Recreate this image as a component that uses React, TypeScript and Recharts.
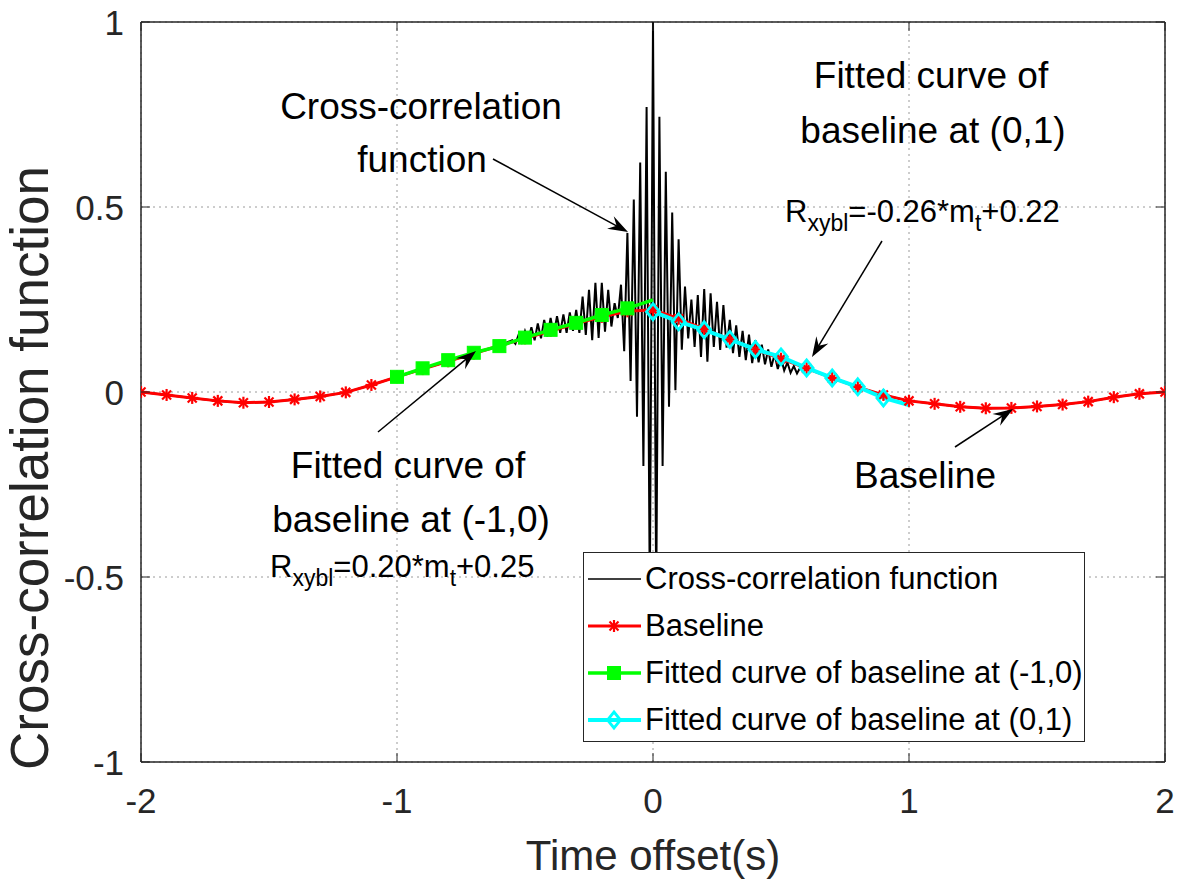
import { LineChart, Line, XAxis, YAxis, CartesianGrid, ReferenceLine, Legend } from 'recharts';

const W = 1182;
const H = 879;
const PLOT = { left: 141, top: 22, right: 1165, bottom: 762 };
const FONT = '"Liberation Sans", Arial, Helvetica, sans-serif';
const INK = '#262626';

const xTicks = [-2, -1, 0, 1, 2];
const yTicks = [-1, -0.5, 0, 0.5, 1];

// baseline, one marker every 0.1 s
const baselineT = [
  -2, -1.9, -1.8, -1.7, -1.6, -1.5, -1.4, -1.3, -1.2, -1.1, -1, -0.9, -0.8, -0.7, -0.6, -0.5, -0.4, -0.3, -0.2, -0.1,
  0, 0.1, 0.2, 0.3, 0.4, 0.5, 0.6, 0.7, 0.8, 0.9, 1, 1.1, 1.2, 1.3, 1.4, 1.5, 1.6, 1.7, 1.8, 1.9, 2,
];
const baselineV = [
  0, -0.008, -0.016, -0.024, -0.029, -0.027, -0.02, -0.012, -0.001, 0.019, 0.041, 0.062, 0.083, 0.104, 0.125, 0.145,
  0.165, 0.185, 0.203, 0.218, 0.222, 0.198, 0.17, 0.142, 0.115, 0.09, 0.064, 0.038, 0.013, -0.008, -0.024, -0.032,
  -0.04, -0.044, -0.043, -0.039, -0.034, -0.026, -0.014, -0.005, 0,
];

// fitted curve on (-1,0)
const fitLeftT = [-1, -0.9, -0.8, -0.7, -0.6, -0.5, -0.4, -0.3, -0.2, -0.1, 0];
const fitLeftV = [0.041, 0.064, 0.086, 0.106, 0.124, 0.147, 0.168, 0.187, 0.208, 0.226, 0.249];

// fitted curve on (0,1)
const fitRightT = [0, 0.1, 0.2, 0.3, 0.4, 0.5, 0.6, 0.7, 0.8, 0.9, 1];
const fitRightV = [0.217, 0.19, 0.168, 0.142, 0.115, 0.095, 0.065, 0.038, 0.014, -0.016, -0.035];

// cross-correlation burst, peaks and troughs every half period (0.0125 s) from -0.55 s
const ccfStart = -0.55;
const ccfStep = 0.0125;
const ccfBurstV = [
  0.14, 0.13, 0.155, 0.135, 0.165, 0.14, 0.175, 0.14, 0.185, 0.145,
  0.195, 0.15, 0.2, 0.155, 0.205, 0.16, 0.21, 0.16, 0.215, 0.165,
  0.222, 0.16, 0.258, 0.154, 0.276, 0.14, 0.295, 0.146, 0.295, 0.163,
  0.276, 0.177, 0.24, 0.2, 0.29, 0.11, 0.43, 0.03, 0.52, -0.067,
  0.62, -0.2, 0.77, -0.56,
  1.0,
  -0.56, 0.744, -0.2, 0.595, -0.04, 0.485, 0.005, 0.413, 0.114, 0.285,
  0.145, 0.25, 0.122, 0.262, 0.095, 0.278, 0.082, 0.267, 0.122, 0.244,
  0.114, 0.235, 0.12, 0.195, 0.105, 0.18, 0.095, 0.165, 0.086, 0.155,
  0.078, 0.14, 0.08, 0.128, 0.075, 0.115, 0.068, 0.102, 0.062, 0.092,
  0.058, 0.08, 0.052, 0.07, 0.05, 0.066, 0.055, 0.064,
];

const seriesNames = [
  'Cross-correlation function',
  'Baseline',
  'Fitted curve of baseline at (-1,0)',
  'Fitted curve of baseline at (0,1)',
];
const RED = '#ff0000';
const GREEN = '#00ff00';
const CYAN = '#00ffff';

const toRows = (ts: number[], vs: number[]) => ts.map((t, i) => ({ t, v: vs[i] }));

const baselineData = toRows(baselineT, baselineV);
const fitLeftData = toRows(fitLeftT, fitLeftV);
const fitRightData = toRows(fitRightT, fitRightV);
const burstData = ccfBurstV.map((v, i) => ({ t: +(ccfStart + i * ccfStep).toFixed(4), v }));
const burstEnd = burstData[burstData.length - 1].t;
// outside the burst the function lies on the baseline
const ccfData = [
  ...baselineData.filter((d) => d.t < ccfStart - 1e-6),
  ...burstData,
  ...baselineData.filter((d) => d.t > burstEnd + 1e-6),
];

const Star = ({ cx, cy }: { cx: number; cy: number }) => (
  <g stroke={RED} strokeWidth={2.2}>
    <line x1={cx - 6} y1={cy} x2={cx + 6} y2={cy} />
    <line x1={cx} y1={cy - 6} x2={cx} y2={cy + 6} />
    <line x1={cx - 4.5} y1={cy - 4.5} x2={cx + 4.5} y2={cy + 4.5} />
    <line x1={cx - 4.5} y1={cy + 4.5} x2={cx + 4.5} y2={cy - 4.5} />
  </g>
);
const Square = ({ cx, cy }: { cx: number; cy: number }) => (
  <rect x={cx - 6.5} y={cy - 6.5} width={13} height={13} fill={GREEN} stroke={GREEN} />
);
const Diamond = ({ cx, cy }: { cx: number; cy: number }) => (
  <polygon
    points={`${cx},${cy - 8} ${cx + 6.5},${cy} ${cx},${cy + 8} ${cx - 6.5},${cy}`}
    fill="none"
    stroke={CYAN}
    strokeWidth={2.8}
  />
);

const starDot = (p: any) => (p.cx == null ? <g key={p.key} /> : <g key={p.key}><Star cx={p.cx} cy={p.cy} /></g>);
// the last point of each fitted curve carries no marker
const squareDot = (p: any) =>
  p.cx == null || p.index === fitLeftData.length - 1 ? <g key={p.key} /> : <g key={p.key}><Square cx={p.cx} cy={p.cy} /></g>;
const diamondDot = (p: any) =>
  p.cx == null || p.index === fitRightData.length - 1 ? <g key={p.key} /> : <g key={p.key}><Diamond cx={p.cx} cy={p.cy} /></g>;

const XTick = (p: any) => (
  <g>
    <line x1={p.x} x2={p.x} y1={PLOT.bottom} y2={PLOT.bottom - 9} stroke={INK} />
    <line x1={p.x} x2={p.x} y1={PLOT.top} y2={PLOT.top + 9} stroke={INK} />
    <text x={p.x} y={813} textAnchor="middle" fontSize={35} fontFamily={FONT} fill={INK}>
      {p.payload.value}
    </text>
  </g>
);
const YTick = (p: any) => (
  <g>
    <line x1={PLOT.left} x2={PLOT.left + 9} y1={p.y} y2={p.y} stroke={INK} />
    <line x1={PLOT.right} x2={PLOT.right - 9} y1={p.y} y2={p.y} stroke={INK} />
    <text x={124} y={p.y + 13} textAnchor="end" fontSize={35} fontFamily={FONT} fill={INK}>
      {p.payload.value}
    </text>
  </g>
);

const legendSamples = [
  <line key="a" x1={4} x2={57} y1={12} y2={12} stroke="#000" strokeWidth={1.5} />,
  <g key="b"><line x1={4} x2={57} y1={12} y2={12} stroke={RED} strokeWidth={3} /><Star cx={30} cy={12} /></g>,
  <g key="c"><line x1={4} x2={57} y1={12} y2={12} stroke={GREEN} strokeWidth={3.5} /><Square cx={30} cy={12} /></g>,
  <g key="d"><line x1={4} x2={57} y1={12} y2={12} stroke={CYAN} strokeWidth={4} /><Diamond cx={30} cy={12} /></g>,
];

const LegendBox = () => (
  <div style={{ fontFamily: FONT, fontSize: 31, color: '#000', paddingTop: 2 }}>
    {seriesNames.map((name, i) => (
      <div key={name} style={{ display: 'flex', alignItems: 'center', height: 47 }}>
        <svg width={60} height={24} style={{ flex: 'none' }}>{legendSamples[i]}</svg>
        <span style={{ marginLeft: 1, lineHeight: 1, whiteSpace: 'nowrap' }}>{name}</span>
      </div>
    ))}
  </div>
);

const Arrow = ({ x1, y1, x2, y2 }: { x1: number; y1: number; x2: number; y2: number }) => {
  const len = Math.hypot(x2 - x1, y2 - y1);
  const ux = (x2 - x1) / len;
  const uy = (y2 - y1) / len;
  const nx = -uy;
  const ny = ux;
  const L = 20;
  const hw = 7;
  const pts = [
    [x2, y2],
    [x2 - L * ux + hw * nx, y2 - L * uy + hw * ny],
    [x2 - 0.65 * L * ux, y2 - 0.65 * L * uy],
    [x2 - L * ux - hw * nx, y2 - L * uy - hw * ny],
  ]
    .map((q) => q.join(','))
    .join(' ');
  return (
    <g>
      <line x1={x1} y1={y1} x2={x2 - 0.6 * L * ux} y2={y2 - 0.6 * L * uy} stroke="#000" strokeWidth={1.5} />
      <polygon points={pts} fill="#000" />
    </g>
  );
};

const RText = ({ x, y, body }: { x: number; y: number; body: [string, string, string] }) => (
  <text x={x} y={y} fontSize={31} fontFamily={FONT} fill="#000">
    R
    <tspan fontSize={23} dy={9}>xybl</tspan>
    <tspan dy={-9}>{body[0]}</tspan>
    <tspan fontSize={23} dy={9}>{body[1]}</tspan>
    <tspan dy={-9}>{body[2]}</tspan>
  </text>
);

const Annotations = () => (
  <svg width={W} height={H} style={{ position: 'absolute', left: 0, top: 0, pointerEvents: 'none' }}>
    <g fontFamily={FONT} fontSize={37} fill="#000" textAnchor="middle">
      <text x={421} y={119}>Cross-correlation</text>
      <text x={422} y={172}>function</text>
      <text x={931} y={88}>Fitted curve of</text>
      <text x={933} y={143}>baseline at (0,1)</text>
      <text x={408} y={478}>Fitted curve of</text>
      <text x={411} y={532}>baseline at (-1,0)</text>
      <text x={925} y={488}>Baseline</text>
    </g>
    <RText x={785} y={222} body={['=-0.26*m', 't', '+0.22']} />
    <RText x={270} y={577} body={['=0.20*m', 't', '+0.25']} />
    <Arrow x1={493} y1={159} x2={628} y2={232} />
    <Arrow x1={882} y1={241} x2={812} y2={357} />
    <Arrow x1={378} y1={432} x2={476} y2={351} />
    <Arrow x1={955} y1={447} x2={1013} y2={409} />
  </svg>
);

export default function App() {
  return (
    <div style={{ position: 'absolute', left: 0, top: 0, width: W, height: H, background: '#fff' }}>
      <LineChart width={W} height={H} margin={{ top: PLOT.top, right: W - PLOT.right, bottom: 0, left: 0 }}>
        <CartesianGrid stroke="#9a9a9a" strokeDasharray="2 4" />
        <XAxis
          dataKey="t"
          type="number"
          domain={[-2, 2]}
          ticks={xTicks}
          interval={0}
          allowDataOverflow
          height={H - PLOT.bottom}
          tickLine={false}
          tick={XTick}
          axisLine={{ stroke: INK, strokeWidth: 1.5 }}
          label={{
            content: () => (
              <text x={(PLOT.left + PLOT.right) / 2} y={870} textAnchor="middle" fontSize={42} fontFamily={FONT} fill={INK}>
                Time offset(s)
              </text>
            ),
          }}
        />
        <YAxis
          type="number"
          domain={[-1, 1]}
          ticks={yTicks}
          interval={0}
          allowDataOverflow
          width={PLOT.left}
          tickLine={false}
          tick={YTick}
          axisLine={{ stroke: INK, strokeWidth: 1.5 }}
          label={{
            content: () => (
              <text
                transform="translate(48, 468) rotate(-90)"
                textAnchor="middle"
                fontSize={53}
                fontFamily={FONT}
                fill={INK}
              >
                Cross-correlation function
              </text>
            ),
          }}
        />
        <ReferenceLine x={2} stroke={INK} strokeWidth={1.5} />
        <ReferenceLine y={1} stroke={INK} strokeWidth={1.5} />
        <Line
          data={ccfData}
          dataKey="v"
          name={seriesNames[0]}
          stroke="#000"
          strokeWidth={2}
          dot={false}
          type="linear"
          isAnimationActive={false}
        />
        <Line
          data={baselineData}
          dataKey="v"
          name={seriesNames[1]}
          stroke={RED}
          strokeWidth={3}
          dot={starDot}
          type="linear"
          isAnimationActive={false}
        />
        <Line
          data={fitLeftData}
          dataKey="v"
          name={seriesNames[2]}
          stroke={GREEN}
          strokeWidth={3.5}
          dot={squareDot}
          type="linear"
          isAnimationActive={false}
        />
        <Line
          data={fitRightData}
          dataKey="v"
          name={seriesNames[3]}
          stroke={CYAN}
          strokeWidth={4}
          dot={diamondDot}
          type="linear"
          isAnimationActive={false}
        />
        <Legend
          layout="vertical"
          align="center"
          verticalAlign="middle"
          content={LegendBox}
          wrapperStyle={{
            left: 583,
            top: 552,
            width: 502,
            height: 190,
            border: `1.5px solid ${INK}`,
            background: '#fff',
            boxSizing: 'border-box',
          }}
        />
      </LineChart>
      <Annotations />
    </div>
  );
}
